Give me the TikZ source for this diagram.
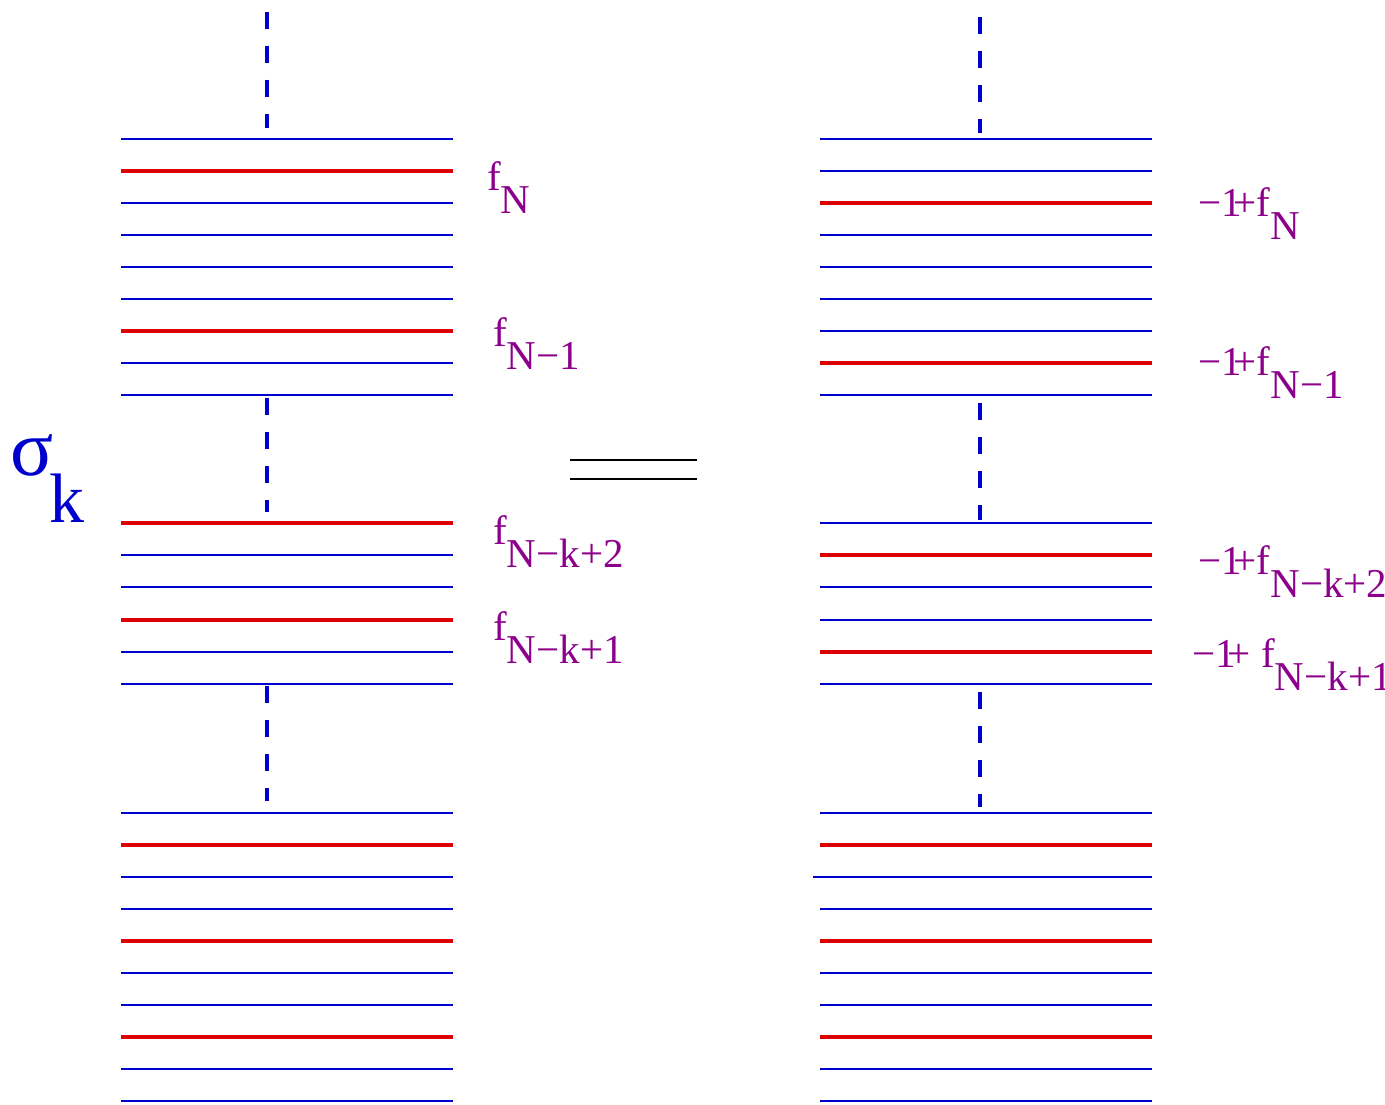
\documentclass[tikz,border=0pt]{standalone}
\usepackage{fontspec}
\setmainfont{Liberation Serif}
\definecolor{lvlblue}{RGB}{0,0,204}
\definecolor{lvlred}{RGB}{221,0,0}
\definecolor{lblpurple}{RGB}{140,0,140}
\newcommand{\lvlsub}[2]{#1\raisebox{-23pt}{#2}}
\newcommand{\mone}{−1\kern-8pt+}
\begin{document}
\begin{tikzpicture}[x=1pt,y=-1pt,
  thinlvl/.style={lvlblue,line width=1.1pt},
  redlvl/.style={lvlred,line width=3.6pt},
  gap/.style={lvlblue,line width=3.6pt,dash pattern=on 17pt off 17pt},
  lbl/.style={lblpurple,anchor=base west,inner sep=0pt,font=\fontsize{41}{41}\selectfont},
  eqline/.style={black,line width=1.4pt}]
\useasboundingbox (0,0) rectangle (1385,1104);
% left column of levels
\foreach \y in {139,203,235,267,299,363,395,555,587,652,684,813,877,909,973,1005,1069,1101}
  \draw[thinlvl] (121,\y) -- (453,\y);
\foreach \y in {171,331,523,620,845,941,1037}
  \draw[redlvl] (121,\y) -- (453,\y);
% right column of levels
\foreach \y in {139,171,235,267,299,331,395,523,587,620,684,813,909,973,1005,1069,1101}
  \draw[thinlvl] (820,\y) -- (1152,\y);
\draw[thinlvl] (813,877) -- (1152,877);
\foreach \y in {203,363,555,652,845,941,1037}
  \draw[redlvl] (820,\y) -- (1152,\y);
% omitted levels
\draw[gap] (267,11.7) -- (267,128);
\draw[gap] (267,398) -- (267,512);
\draw[gap] (267,686) -- (267,801);
\draw[gap] (980,17) -- (980,133);
\draw[gap] (980,403) -- (980,520);
\draw[gap] (980,692) -- (980,807);
% equality sign
\draw[eqline] (570,460) -- (697,460);
\draw[eqline] (570,479) -- (697,479);
% sigma_k
\node[lvlblue,anchor=base west,inner sep=0pt,font=\fontsize{80}{80}\selectfont] (sig) at (10,475) {σ};
\node[lvlblue,anchor=base west,inner sep=0pt,font=\fontsize{70}{70}\selectfont] (sigk) at (49,522) {k};
% left labels
\node[lbl] (l1) at (487,190) {\lvlsub{f}{N}};
\node[lbl] (l2) at (493,346) {\lvlsub{f}{N−1}};
\node[lbl] (l3) at (493,544) {\lvlsub{f}{N−k+2}};
\node[lbl] (l4) at (493,640) {\lvlsub{f}{N−k+1}};
% right labels
\node[lbl] (r1) at (1198,216) {\lvlsub{\mone f}{N}};
\node[lbl] (r2) at (1198,375) {\lvlsub{\mone f}{N−1}};
\node[lbl] (r3) at (1198,574) {\lvlsub{\mone f}{N−k+2}};
\node[lbl] (r4) at (1192,667) {\lvlsub{\mone\ f}{N−k+1}};
\end{tikzpicture}
\end{document}
